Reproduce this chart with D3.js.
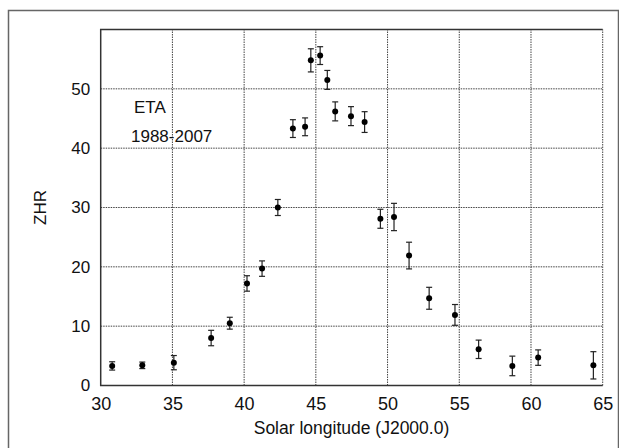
<!DOCTYPE html>
<html>
<head>
<meta charset="utf-8">
<script src="https://cdn.jsdelivr.net/npm/d3@7"></script>
<style>
  body { margin: 0; background: #fff; }
  text { font-family: "Liberation Sans", Arial, sans-serif; fill: #111; }
</style>
</head>
<body>
<svg id="chart" width="619" height="448"></svg>
<script>
"use strict";

// solar longitude, ZHR and error half-width for each point
var lon = [30.8, 32.9, 35.1, 37.7, 39.0, 40.2, 41.25, 42.35, 43.4, 44.25, 44.65, 45.3, 45.8,
           46.35, 47.45, 48.4, 49.5, 50.45, 51.5, 52.9, 54.7, 56.35, 58.7, 60.5, 64.35];
var zhr = [3.3, 3.4, 3.85, 8.0, 10.5, 17.2, 19.7, 30.0, 43.3, 43.6, 54.8, 55.6, 51.5,
           46.2, 45.4, 44.4, 28.1, 28.4, 21.9, 14.7, 11.9, 6.1, 3.3, 4.7, 3.4];
var err = [0.7, 0.55, 1.2, 1.3, 1.0, 1.3, 1.3, 1.35, 1.5, 1.5, 1.95, 1.5, 1.6,
           1.6, 1.6, 1.75, 1.6, 2.3, 2.25, 1.85, 1.75, 1.55, 1.65, 1.3, 2.3];
var xTicks = [30, 35, 40, 45, 50, 55, 60, 65];
var yTicks = [0, 10, 20, 30, 40, 50];

var svg = d3.select("#chart");

// outer frame
svg.append("rect")
    .attr("x", 8.5).attr("y", 10.5)
    .attr("width", 610).attr("height", 460)
    .attr("fill", "none").attr("stroke", "#666").attr("stroke-width", 1.5);

var x = d3.scaleLinear().domain([30, 65]).range([100.7, 602.7]);
var y = d3.scaleLinear().domain([0, 60]).range([385.5, 29.5]);

var grid = svg.append("g").attr("class", "grid")
    .attr("stroke", "#444").attr("stroke-width", 1).attr("stroke-dasharray", "1.5,1");
grid.selectAll("line.v").data(xTicks.slice(1)).enter().append("line")
    .attr("x1", function (d) { return x(d); }).attr("x2", function (d) { return x(d); })
    .attr("y1", y(0)).attr("y2", y(60));
grid.selectAll("line.h").data(yTicks.slice(1)).enter().append("line")
    .attr("x1", x(30)).attr("x2", x(65))
    .attr("y1", function (d) { return y(d); }).attr("y2", function (d) { return y(d); });

// solid border on left, bottom and top
var border = svg.append("path")
    .attr("d", "M" + x(65) + "," + y(60) + "H" + x(30) + "V" + y(0) + "H" + x(65))
    .attr("fill", "none").attr("stroke", "#333").attr("stroke-width", 1.5);

var xAxis = d3.axisBottom(x).tickValues(xTicks).tickSize(0).tickPadding(11.5);
var yAxis = d3.axisLeft(y).tickValues(yTicks).tickSize(0).tickPadding(10.5);
var gX = svg.append("g").attr("transform", "translate(0," + y(0) + ")").call(xAxis);
var gY = svg.append("g").attr("transform", "translate(" + x(30) + ",0)").call(yAxis);
gX.select(".domain").remove();
gY.select(".domain").remove();
gX.selectAll("text").style("font-size", "18px").attr("fill", "#111");
gY.selectAll("text").style("font-size", "17px").attr("fill", "#111");

// error bars
var bars = svg.append("g").attr("stroke", "#222").attr("stroke-width", 1.2);
lon.forEach(function (v, i) {
    var cx = x(v), top = y(zhr[i] + err[i]), bot = y(zhr[i] - err[i]);
    bars.append("line").attr("x1", cx).attr("x2", cx).attr("y1", top).attr("y2", bot);
    bars.append("line").attr("x1", cx - 3).attr("x2", cx + 3).attr("y1", top).attr("y2", top);
    bars.append("line").attr("x1", cx - 3).attr("x2", cx + 3).attr("y1", bot).attr("y2", bot);
});

svg.append("g").selectAll("circle").data(lon).enter().append("circle")
    .attr("cx", function (d) { return x(d); })
    .attr("cy", function (d, i) { return y(zhr[i]); })
    .attr("r", 3).attr("fill", "#000");

svg.append("text").attr("x", 134).attr("y", 113).style("font-size", "17px").text("ETA");
svg.append("text").attr("x", 131).attr("y", 142).style("font-size", "17px").text("1988-2007");

svg.append("text").attr("x", 351.5).attr("y", 434).attr("text-anchor", "middle")
    .style("font-size", "17.5px").text("Solar longitude (J2000.0)");
svg.append("text").attr("transform", "translate(46,207.5) rotate(-90)")
    .attr("text-anchor", "middle").style("font-size", "17px").text("ZHR");
</script>
</body>
</html>
